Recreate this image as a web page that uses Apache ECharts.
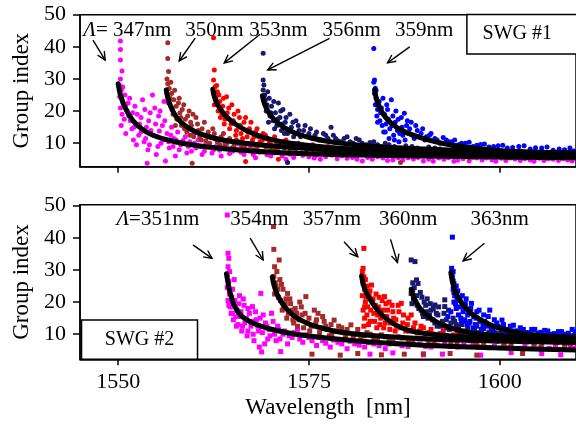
<!DOCTYPE html>
<html><head><meta charset="utf-8">
<script src="https://cdn.jsdelivr.net/npm/echarts@6/dist/echarts.min.js"></script>
<style>html,body{margin:0;padding:0;background:#fff;font-family:'Liberation Serif',serif}#c{width:576px;height:424px}</style>
</head><body><div id="c"></div>
<script>
// ---------- tick labels ----------
const xTicks = [1550, 1575, 1600];
const yTicks = [10, 20, 30, 40, 50];

// ---------- SWG #1 (top panel) : scatter data [wavelength nm, group index] ----------
const swg1_347 = [[1550.3,41.8],[1550.3,39.2],[1550.3,35.9],[1550.5,32.5],[1550.3,30.0],[1550.2,28.0],[1550.4,26.5],[1550.2,24.5],[1550.6,23.0],[1550.3,21.0],[1550.5,19.0],[1550.8,17.5],[1550.4,15.5],[1551.0,22.0],[1551.2,20.0],[1551.0,13.0],[1551.5,24.0],[1551.6,17.0],[1551.8,14.5],[1552.0,11.0],[1552.2,21.5],[1552.5,19.0],[1552.4,9.5],[1552.8,16.0],[1553.0,13.5],[1553.2,23.5],[1553.5,20.5],[1553.6,11.5],[1553.8,3.8],[1553.9,8.0],[1554.0,17.0],[1554.3,14.0],[1554.5,25.0],[1554.8,21.0],[1555.0,6.5],[1555.1,12.0],[1555.3,18.5],[1555.5,20.0],[1555.6,10.0],[1555.8,15.5],[1556.0,23.0],[1556.2,4.5],[1556.4,13.0],[1556.7,8.5],[1557.0,15.0],[1557.3,11.5],[1557.5,6.0],[1557.8,13.5],[1558.2,9.5],[1558.8,12.0],[1559.0,7.0],[1559.4,10.5],[1559.8,12.5],[1560.2,8.5],[1560.5,11.0],[1561.0,6.5],[1561.5,10.0],[1562.0,12.0],[1562.5,8.0],[1563.0,10.5],[1563.5,6.0],[1564.2,9.5],[1565.0,7.5],[1565.8,9.8],[1566.5,6.5],[1567.3,8.5],[1568.0,5.5],[1569.0,7.5],[1570.0,6.0],[1571.0,7.6],[1572.0,5.0],[1573.5,6.8],[1575.0,5.8],[1576.5,5.0],[1578.0,6.3],[1580.0,5.3],[1582.0,4.5],[1584.0,5.8],[1586.0,4.8],[1588.0,5.5],[1590.0,4.5],[1592.0,5.4],[1594.5,4.7],[1597.0,5.4],[1599.5,4.4],[1602.0,5.1],[1604.5,4.4],[1607.0,5.0],[1609.5,4.5],
[1550.6,27.5],[1550.9,25.0],[1551.3,22.5],[1551.4,18.5],[1551.9,19.5],[1552.1,15.0],[1552.7,12.5],[1553.0,18.0],[1553.4,10.5],[1553.7,15.0],[1554.1,9.5],[1554.2,19.5],[1554.6,12.5],[1554.9,16.0],[1555.2,9.0],[1555.4,13.8],[1555.9,11.0],[1556.1,17.0],[1556.6,10.5],[1556.9,12.5],[1557.2,9.0],[1557.6,11.0],[1558.0,8.0],[1558.5,10.8],[1559.2,9.0],[1559.6,7.5],[1560.0,10.0],[1560.8,9.0],[1561.3,7.5],[1561.8,9.2],[1562.3,7.0],[1562.8,9.0],[1563.3,7.8],[1563.8,8.8],[1564.6,6.8],[1565.4,8.2],[1566.1,7.2],[1566.9,7.8],[1567.7,6.5],[1568.5,7.2],[1569.5,6.4],[1570.5,7.0],[1571.5,6.0],[1572.5,6.6],[1573.0,5.6],[1574.2,6.2],[1575.7,5.4],[1576.0,6.3],[1577.2,5.8],[1578.7,5.2],[1579.3,6.0],[1580.7,5.6],[1581.3,5.0],[1582.7,5.6],[1583.3,5.0],[1584.7,5.4],[1585.3,4.6],[1586.7,5.5],[1587.3,4.7],[1588.7,5.1],[1589.3,5.6],[1590.7,5.0],[1591.3,4.4],[1592.7,5.0],[1593.3,5.5],[1594.0,4.4],[1595.2,5.2],[1596.0,4.5],[1596.5,5.6],[1597.7,4.8],[1598.3,5.4],[1599.0,4.8],[1600.2,5.3],[1600.8,4.6],[1601.4,5.4],[1602.7,4.6],[1603.3,5.2],[1604.0,4.8],[1605.2,5.3],[1605.8,4.6],[1606.4,5.2],[1607.7,4.6],[1608.3,5.2],[1608.9,4.8]];
const swg1_350 = [[1556.5,41.3],[1556.5,36.4],[1556.6,32.3],[1556.4,30.0],[1556.5,28.5],[1556.7,27.0],[1556.4,25.5],[1556.8,24.0],[1556.6,22.5],[1557.0,25.5],[1557.1,21.0],[1557.3,23.5],[1557.2,19.0],[1557.6,21.5],[1557.7,17.5],[1558.0,24.0],[1558.1,19.5],[1558.3,15.5],[1558.6,22.0],[1558.8,17.5],[1559.0,13.5],[1559.3,20.0],[1559.6,15.5],[1559.7,3.8],[1559.9,12.0],[1560.2,18.0],[1560.5,14.0],[1560.9,11.0],[1561.3,16.5],[1561.6,12.5],[1562.0,10.0],[1562.4,14.5],[1562.8,11.5],[1563.3,9.5],[1563.8,13.0],[1564.3,10.5],[1564.9,8.5],[1565.5,11.0],[1566.2,9.0],[1567.0,10.0],[1567.8,8.0],[1568.8,9.5],[1570.0,8.0],[1571.2,9.0],[1572.5,7.5],[1574.0,8.5],[1575.5,7.0],[1577.0,8.0],[1578.5,6.5],[1580.5,7.5],[1582.5,6.5],[1584.5,7.0],[1586.5,6.0],[1587.0,4.0],[1588.5,6.8],[1591.0,5.8],[1593.5,6.5],[1596.0,5.5],[1598.5,6.2],[1601.0,5.5],[1603.5,6.0],[1606.0,5.3],[1608.5,5.8],
[1556.9,29.0],[1557.4,26.5],[1557.5,15.5],[1557.9,22.5],[1558.2,18.0],[1558.4,20.5],[1558.7,14.5],[1559.1,18.5],[1559.4,12.5],[1559.5,16.5],[1559.8,19.0],[1560.0,13.5],[1560.4,16.0],[1560.7,12.0],[1561.0,14.5],[1561.5,10.8],[1561.8,13.5],[1562.2,11.8],[1562.6,13.0],[1563.0,10.5],[1563.5,12.0],[1564.0,9.8],[1564.6,11.5],[1565.2,9.5],[1565.8,10.5],[1566.6,8.8],[1567.4,9.5],[1568.2,8.5],[1569.4,8.8],[1570.6,7.8],[1571.8,8.4],[1573.2,7.6],[1574.7,8.0],[1576.2,7.2],[1577.7,7.6],[1579.3,6.8],[1580.0,6.2],[1581.5,7.0],[1583.5,6.6],[1585.5,6.4],[1587.5,6.2],[1589.7,6.5],[1592.2,6.0],[1594.7,6.2],[1597.2,5.8],[1599.7,6.0],[1602.2,5.7],[1604.7,5.9],[1607.2,5.5],[1609.5,5.7]];
const swg1_353 = [[1562.5,42.8],[1562.6,32.8],[1562.5,29.7],[1562.7,27.6],[1562.5,25.5],[1562.8,24.0],[1562.6,22.0],[1563.0,26.0],[1563.1,20.0],[1563.3,23.0],[1563.4,18.0],[1563.7,21.5],[1563.9,16.0],[1564.2,24.5],[1564.3,19.5],[1564.6,14.5],[1564.9,22.0],[1565.1,17.0],[1565.4,12.5],[1565.7,20.0],[1566.0,15.5],[1566.3,11.5],[1566.7,4.3],[1566.7,18.0],[1567.0,13.5],[1567.4,16.5],[1567.8,12.0],[1568.2,14.5],[1568.6,10.5],[1569.0,13.0],[1569.5,11.5],[1570.0,9.5],[1570.5,12.0],[1571.0,5.0],[1571.2,10.0],[1572.0,11.0],[1572.8,9.0],[1573.6,10.0],[1574.5,8.5],[1575.5,9.5],[1576.5,8.0],[1577.5,9.0],[1578.8,7.5],[1580.0,8.5],[1581.5,7.5],[1583.0,8.0],[1584.5,7.0],[1586.0,7.8],[1588.0,6.8],[1590.0,7.5],[1592.0,6.5],[1594.0,7.2],[1596.5,6.5],[1599.0,7.0],[1601.5,6.3],[1604.0,6.8],[1606.5,6.2],[1609.0,6.6],
[1562.9,28.0],[1563.2,25.0],[1563.6,19.0],[1563.8,24.0],[1564.0,17.5],[1564.5,21.0],[1564.8,16.0],[1565.2,19.0],[1565.5,14.0],[1565.9,18.0],[1566.1,13.0],[1566.5,16.5],[1566.9,12.0],[1567.2,14.5],[1567.6,11.0],[1568.0,13.5],[1568.4,12.0],[1568.9,11.0],[1569.3,12.5],[1569.8,10.5],[1570.3,11.0],[1570.8,9.8],[1571.6,10.5],[1572.4,9.5],[1573.2,9.8],[1574.0,9.0],[1575.0,8.8],[1576.0,9.0],[1577.0,8.2],[1578.2,8.6],[1579.4,7.8],[1580.7,8.2],[1582.2,7.6],[1583.7,7.8],[1585.2,7.2],[1587.0,7.4],[1589.0,7.0],[1591.0,7.2],[1593.0,6.8],[1595.2,7.0],[1597.7,6.6],[1600.2,6.8],[1602.7,6.5],[1605.2,6.6],[1607.7,6.4],[1609.7,6.7]];
const swg1_356 = [[1569.0,38.0],[1569.0,29.7],[1569.1,28.1],[1569.0,26.6],[1569.2,25.0],[1569.3,23.5],[1569.5,22.0],[1569.4,20.0],[1569.8,24.0],[1569.9,18.5],[1570.1,21.5],[1570.3,17.0],[1570.6,19.5],[1570.8,15.5],[1571.0,22.5],[1571.2,18.0],[1571.4,14.0],[1571.6,20.5],[1571.9,16.5],[1572.2,4.0],[1572.2,13.0],[1572.5,19.0],[1572.7,15.0],[1573.0,12.0],[1573.3,17.0],[1573.7,14.0],[1574.1,12.5],[1574.5,15.5],[1575.0,13.0],[1575.5,11.5],[1576.0,13.5],[1576.6,11.0],[1577.2,12.5],[1577.9,15.0],[1578.5,11.5],[1579.2,10.5],[1580.0,12.0],[1580.8,10.0],[1581.6,11.0],[1582.5,9.5],[1583.5,10.5],[1584.5,9.0],[1585.5,9.5],[1587.0,8.5],[1588.5,9.0],[1590.0,8.0],[1591.5,8.5],[1593.0,7.5],[1595.0,8.0],[1597.0,7.2],[1599.0,7.6],[1601.5,7.0],[1604.0,7.4],[1606.5,6.8],[1609.0,7.2],
[1569.6,26.0],[1569.7,16.5],[1570.0,19.5],[1570.4,23.0],[1570.5,14.5],[1570.9,17.5],[1571.3,20.0],[1571.5,16.0],[1571.8,13.0],[1572.0,18.0],[1572.4,14.0],[1572.9,16.5],[1573.2,13.0],[1573.6,15.5],[1573.9,12.0],[1574.3,14.0],[1574.8,12.0],[1575.2,14.5],[1575.8,12.5],[1576.3,11.0],[1576.9,13.0],[1577.5,11.5],[1578.2,12.5],[1578.8,10.8],[1579.6,11.5],[1580.4,10.5],[1581.2,11.5],[1582.0,10.0],[1583.0,10.2],[1584.0,9.5],[1585.0,10.0],[1586.2,9.0],[1587.7,9.2],[1589.2,8.5],[1590.7,8.8],[1592.2,8.2],[1594.0,8.4],[1596.0,7.8],[1598.0,8.0],[1600.2,7.4],[1602.7,7.6],[1605.2,7.2],[1607.7,7.4],[1609.5,7.0]];
const swg1_359 = [[1583.5,39.5],[1583.6,29.7],[1583.5,29.0],[1583.7,27.1],[1583.6,25.5],[1583.8,24.0],[1583.7,22.0],[1584.0,20.5],[1583.9,18.5],[1584.2,23.0],[1584.3,17.0],[1584.5,21.0],[1584.6,15.5],[1584.9,19.0],[1585.0,13.5],[1585.2,22.0],[1585.4,17.5],[1585.5,11.5],[1585.8,23.5],[1585.9,15.5],[1586.1,12.5],[1586.4,20.0],[1586.6,14.0],[1586.8,10.5],[1587.1,18.0],[1587.3,12.5],[1587.5,19.3],[1587.8,15.5],[1588.1,13.0],[1588.4,16.5],[1588.8,11.5],[1589.2,14.0],[1589.7,13.0],[1590.2,11.0],[1590.8,12.5],[1591.5,11.5],[1592.2,10.0],[1593.0,11.0],[1593.7,10.5],[1594.6,9.5],[1595.5,10.0],[1596.5,9.0],[1597.5,9.6],[1598.6,8.8],[1599.8,9.2],[1601.0,8.5],[1602.5,9.0],[1604.0,8.2],[1605.5,8.5],[1607.0,7.8],[1608.5,8.0],[1609.7,7.6],
[1583.8,26.5],[1584.0,16.5],[1584.4,19.5],[1584.7,24.0],[1584.8,13.5],[1585.1,16.0],[1585.3,20.5],[1585.6,14.5],[1586.0,18.5],[1586.2,11.0],[1586.3,16.5],[1586.7,17.5],[1586.9,13.0],[1587.2,15.0],[1587.6,11.0],[1587.9,17.0],[1588.2,14.5],[1588.6,12.5],[1589.0,15.5],[1589.4,12.0],[1589.9,14.5],[1590.4,12.0],[1591.0,13.0],[1591.8,11.0],[1592.6,11.8],[1593.3,10.5],[1594.1,11.0],[1595.0,10.0],[1596.0,10.3],[1597.0,9.4],[1598.0,9.8],[1599.2,9.0],[1600.4,9.4],[1601.7,8.7],[1603.2,9.2],[1604.7,8.6],[1606.2,8.8],[1607.8,8.2],[1609.2,8.5]];

// ---------- SWG #1 fitted curves ----------
const fit1_347 = [[1550.0,28.5],[1550.2,26.0],[1550.4,24.3],[1550.7,22.2],[1551.1,20.2],[1551.5,18.5],[1552.0,16.9],[1552.8,15.0],[1553.8,13.4],[1555.0,12.1],[1556.5,11.0],[1558.2,10.1],[1560.5,9.2],[1563.0,8.5],[1567.4,7.6],[1572.0,7.0],[1578.0,6.5],[1585.0,6.2],[1595.0,5.9],[1605.0,5.6],[1610.0,5.5]];
const fit1_350 = [[1556.3,26.6],[1556.5,24.2],[1556.8,22.0],[1557.1,20.3],[1557.6,18.3],[1558.2,16.6],[1559.2,14.8],[1560.4,13.3],[1561.8,12.1],[1563.5,11.1],[1566.9,9.9],[1572.0,8.8],[1580.0,7.7],[1590.0,6.9],[1600.0,6.4],[1610.0,6.0]];
const fit1_353 = [[1562.4,26.8],[1562.6,24.6],[1562.9,22.6],[1563.4,20.6],[1564.0,18.7],[1564.7,17.2],[1565.6,15.6],[1566.6,14.2],[1568.2,12.5],[1570.0,11.2],[1572.6,10.0],[1578.0,8.6],[1585.0,7.7],[1595.0,7.0],[1610.0,6.4]];
const fit1_356 = [[1568.9,24.8],[1569.1,22.8],[1569.4,21.0],[1569.8,19.3],[1570.4,17.5],[1571.2,15.8],[1572.3,14.1],[1573.6,12.8],[1575.2,11.7],[1577.0,10.8],[1580.0,9.8],[1583.5,9.0],[1590.0,8.2],[1600.0,7.4],[1610.0,7.0]];
const fit1_359 = [[1583.6,26.6],[1583.8,24.3],[1584.1,22.1],[1584.5,20.0],[1585.0,18.2],[1585.7,16.4],[1586.6,14.8],[1587.8,13.3],[1589.4,11.9],[1591.5,10.5],[1593.8,9.4],[1596.5,8.5],[1600.3,7.7],[1605.0,7.2],[1610.0,6.9]];

// ---------- SWG #2 (bottom panel) : scatter data ----------
const swg2_351 = [[1564.3,47.1],[1564.4,35.2],[1564.5,33.6],[1564.4,31.0],[1564.3,28.5],[1564.5,26.5],[1564.3,24.5],[1564.6,22.5],[1564.4,20.5],[1564.7,18.5],[1564.8,16.5],[1565.0,24.0],[1565.1,14.5],[1565.3,20.5],[1565.5,12.5],[1565.6,17.5],[1565.9,22.0],[1566.0,15.5],[1566.2,11.0],[1566.5,19.0],[1566.6,13.5],[1566.9,9.5],[1567.2,16.5],[1567.4,12.5],[1567.6,18.6],[1567.8,8.0],[1568.1,14.5],[1568.4,11.0],[1568.7,22.7],[1568.8,4.5],[1569.0,16.0],[1569.2,7.0],[1569.5,12.5],[1569.9,9.5],[1570.3,14.0],[1570.7,8.0],[1571.0,11.5],[1571.3,4.6],[1571.6,10.0],[1572.2,7.0],[1572.8,9.0],[1573.5,11.5],[1574.2,7.5],[1575.0,9.0],[1576.0,6.5],[1576.8,8.0],[1577.8,6.0],[1578.8,7.5],[1580.0,5.5],[1581.0,7.0],[1582.3,6.0],[1583.5,7.0],[1585.0,5.5],[1586.5,7.0],[1588.0,6.2],[1589.5,7.0],[1590.0,3.6],[1591.0,6.0],[1592.8,6.8],[1594.5,6.0],[1596.5,6.8],[1598.5,5.8],[1600.5,6.5],[1602.5,5.6],[1604.5,6.3],[1606.5,5.6],[1608.5,6.2],[1609.8,5.7],[1597.5,3.5],[1605.5,4.0],
[1564.6,29.5],[1564.5,19.0],[1564.9,21.5],[1565.0,16.5],[1565.2,27.0],[1565.4,15.5],[1565.7,13.0],[1565.8,19.5],[1566.1,17.0],[1566.3,12.5],[1566.4,21.0],[1566.8,15.0],[1567.0,11.0],[1567.0,18.0],[1567.5,14.0],[1567.7,10.0],[1568.0,17.0],[1568.3,12.5],[1568.5,6.0],[1568.6,15.0],[1568.9,10.5],[1569.3,13.5],[1569.6,8.5],[1569.8,11.5],[1570.1,16.5],[1570.5,10.0],[1570.9,12.5],[1571.2,8.5],[1571.8,11.0],[1572.4,9.5],[1573.0,10.5],[1573.8,8.5],[1574.6,9.8],[1575.4,8.0],[1576.3,9.0],[1577.2,7.2],[1578.2,8.2],[1579.3,7.0],[1580.4,7.8],[1581.6,6.6],[1582.8,7.4],[1584.2,6.4],[1585.6,7.0],[1587.2,6.4],[1588.7,6.8],[1590.3,6.2],[1591.8,6.6],[1593.5,6.2],[1595.3,6.6],[1597.2,6.0],[1599.3,6.4],[1601.3,5.9],[1603.3,6.3],[1605.3,5.8],[1607.3,6.2],[1609.3,5.9],[1583.0,3.8],[1586.0,4.2],[1592.5,3.8],[1601.5,4.3],[1608.0,3.6]];
const swg2_354 = [[1570.35,43.5],[1570.4,36.4],[1571.1,33.1],[1570.5,31.0],[1570.8,29.5],[1570.4,28.0],[1570.6,26.0],[1570.9,24.0],[1570.5,22.5],[1571.2,27.0],[1571.3,20.5],[1571.6,24.0],[1571.7,18.5],[1572.0,21.0],[1572.2,22.7],[1572.3,16.5],[1572.6,19.5],[1572.9,14.5],[1573.2,18.0],[1573.5,12.5],[1573.8,20.0],[1574.1,16.0],[1574.6,21.7],[1574.8,13.5],[1575.1,11.0],[1575.4,3.8],[1575.7,17.5],[1576.0,14.5],[1576.4,10.5],[1576.8,15.5],[1577.2,12.5],[1577.7,9.5],[1578.3,14.4],[1578.6,11.0],[1579.1,3.5],[1579.3,12.0],[1579.8,9.0],[1580.5,12.9],[1581.0,10.0],[1581.4,4.0],[1581.8,8.5],[1582.6,10.5],[1583.5,8.5],[1584.5,9.8],[1585.5,8.0],[1586.7,9.2],[1587.5,3.8],[1588.0,8.0],[1589.3,8.8],[1590.7,7.6],[1592.0,8.5],[1593.5,4.0],[1593.6,7.5],[1595.2,8.3],[1597.0,7.4],[1598.8,8.0],[1600.6,7.2],[1602.5,7.9],[1604.5,7.0],[1606.5,7.7],[1608.5,6.9],[1609.8,7.4],
[1570.7,25.0],[1571.0,21.5],[1571.4,25.5],[1571.5,17.5],[1571.9,19.5],[1572.1,15.0],[1572.5,21.0],[1572.8,17.5],[1573.0,13.5],[1573.4,16.5],[1573.7,14.5],[1574.0,18.5],[1574.3,12.0],[1574.5,16.5],[1575.0,15.0],[1575.3,12.5],[1575.9,13.5],[1576.2,16.5],[1576.6,12.0],[1577.0,14.0],[1577.5,11.5],[1577.9,13.0],[1578.0,10.0],[1578.9,12.5],[1579.5,10.5],[1580.0,11.5],[1580.8,9.5],[1581.4,11.5],[1582.2,9.5],[1583.0,10.0],[1584.0,9.0],[1585.0,9.2],[1586.0,8.5],[1587.2,8.8],[1588.6,8.2],[1590.0,8.6],[1591.4,7.8],[1592.8,8.2],[1594.4,7.6],[1596.1,8.0],[1597.9,7.2],[1599.7,7.8],[1601.5,7.0],[1603.5,7.6],[1605.5,6.9],[1607.5,7.4],[1609.2,7.0],[1584.5,3.6],[1590.0,3.9],[1597.0,3.5],[1603.0,4.0]];
const swg2_357 = [[1582.2,36.7],[1582.1,30.5],[1582.0,29.5],[1582.2,27.9],[1582.1,26.0],[1582.3,24.0],[1582.0,22.0],[1582.4,20.0],[1582.1,17.5],[1582.3,15.0],[1582.2,12.5],[1582.6,25.0],[1582.7,18.5],[1582.9,22.0],[1583.0,14.0],[1583.2,25.3],[1583.3,20.0],[1583.5,16.5],[1583.8,22.5],[1583.9,12.0],[1584.1,18.5],[1584.4,15.0],[1584.6,20.5],[1584.9,21.7],[1585.0,13.5],[1585.3,17.5],[1585.6,11.5],[1585.9,19.0],[1586.1,15.0],[1586.5,12.5],[1586.8,17.0],[1587.1,19.6],[1587.3,13.5],[1587.7,11.0],[1588.0,15.0],[1588.4,16.0],[1588.7,12.0],[1589.2,10.5],[1589.7,12.5],[1590.3,10.0],[1591.0,11.5],[1591.8,9.5],[1592.6,11.0],[1593.5,9.0],[1594.5,10.5],[1595.5,9.0],[1596.6,10.0],[1597.7,8.8],[1598.8,9.8],[1600.0,8.6],[1601.3,9.6],[1602.6,8.5],[1603.2,10.3],[1604.0,9.2],[1605.4,8.4],[1606.4,9.8],[1606.8,8.8],[1608.2,8.2],[1609.6,8.8],
[1582.4,27.0],[1582.5,21.5],[1582.3,18.5],[1582.6,16.0],[1582.8,13.0],[1583.0,23.5],[1583.1,17.5],[1583.4,21.0],[1583.6,14.0],[1583.7,19.0],[1584.0,16.0],[1584.2,21.5],[1584.3,13.0],[1584.7,17.5],[1584.8,12.0],[1585.1,19.5],[1585.2,15.5],[1585.5,20.0],[1585.7,13.5],[1586.0,17.0],[1586.3,11.0],[1586.4,14.5],[1586.7,19.0],[1587.0,12.0],[1587.4,16.0],[1587.9,13.0],[1588.2,11.0],[1588.9,13.5],[1589.5,11.0],[1590.0,12.0],[1590.7,10.5],[1591.4,10.0],[1592.2,10.2],[1593.0,9.5],[1594.0,9.8],[1595.0,9.2],[1596.1,9.4],[1597.2,8.8],[1598.3,9.2],[1599.4,8.8],[1600.6,9.2],[1601.9,8.6],[1602.0,10.0],[1603.6,8.8],[1604.7,9.0],[1605.9,8.6],[1607.4,8.8],[1608.9,8.4]];
const swg2_360 = [[1588.4,33.1],[1588.9,32.6],[1589.1,26.9],[1589.3,25.8],[1588.6,23.8],[1588.4,22.7],[1588.7,21.0],[1588.5,19.5],[1589.0,20.0],[1589.4,18.0],[1589.8,21.5],[1589.9,16.5],[1590.3,19.0],[1590.5,21.0],[1590.6,15.0],[1591.0,17.5],[1591.3,18.0],[1591.5,19.1],[1591.5,13.5],[1591.9,16.0],[1592.3,12.5],[1592.8,18.6],[1592.8,20.7],[1593.0,14.5],[1593.4,11.5],[1593.9,15.0],[1594.3,13.0],[1594.8,10.8],[1595.3,14.0],[1595.8,12.0],[1596.4,10.5],[1597.0,12.5],[1597.6,11.0],[1598.3,10.0],[1599.0,11.5],[1599.8,10.2],[1600.6,9.8],[1601.5,10.8],[1602.4,9.6],[1603.4,10.4],[1604.4,9.4],[1605.4,10.2],[1606.4,9.2],[1607.5,9.9],[1608.6,9.1],[1609.7,9.6],
[1588.6,26.0],[1588.8,24.5],[1589.1,22.0],[1589.2,19.0],[1589.6,23.0],[1589.7,17.5],[1590.0,15.5],[1590.1,20.0],[1590.4,17.0],[1590.8,16.0],[1590.9,19.5],[1591.2,14.5],[1591.7,16.5],[1591.8,12.5],[1592.0,18.5],[1592.5,14.0],[1592.7,16.5],[1593.1,12.0],[1593.3,17.5],[1593.6,13.5],[1594.1,14.0],[1594.5,11.5],[1594.6,12.5],[1595.0,13.0],[1595.5,11.0],[1596.0,13.5],[1596.7,11.5],[1597.3,10.5],[1597.9,11.8],[1598.6,10.6],[1599.3,10.5],[1600.2,10.5],[1601.0,9.8],[1602.0,10.2],[1602.9,9.6],[1603.9,9.8],[1604.9,9.3],[1605.9,9.6],[1607.0,9.2],[1608.0,9.6],[1609.2,9.0]];
const swg2_363 = [[1593.8,40.2],[1593.7,30.5],[1593.9,29.5],[1593.8,27.9],[1594.0,25.8],[1593.9,24.0],[1594.1,22.0],[1594.0,20.0],[1593.2,15.5],[1593.6,17.0],[1594.3,18.0],[1594.5,23.5],[1594.6,16.0],[1594.8,20.5],[1595.0,14.0],[1595.3,18.5],[1595.6,21.0],[1595.7,13.0],[1596.0,16.5],[1596.3,19.6],[1596.5,12.0],[1596.9,15.0],[1597.3,17.5],[1597.6,11.5],[1598.0,14.0],[1598.4,12.5],[1598.7,17.5],[1599.1,11.0],[1599.6,13.5],[1600.0,12.0],[1600.3,14.4],[1600.8,10.8],[1601.4,12.5],[1602.0,11.0],[1602.7,12.0],[1603.4,10.5],[1604.2,11.5],[1605.0,10.3],[1605.9,11.2],[1606.8,10.0],[1607.7,10.8],[1608.6,10.0],[1609.5,11.5],
[1593.9,26.5],[1594.0,23.0],[1594.2,19.5],[1594.3,25.0],[1594.4,21.0],[1594.7,18.5],[1594.9,15.0],[1595.1,22.0],[1595.2,17.0],[1595.4,14.5],[1595.5,19.5],[1595.8,16.0],[1596.1,14.0],[1596.2,18.0],[1596.6,15.5],[1596.8,13.0],[1597.0,17.0],[1597.4,14.0],[1597.8,12.5],[1597.9,16.0],[1598.2,13.5],[1598.5,15.5],[1598.9,12.0],[1599.3,14.5],[1599.8,12.5],[1600.5,13.0],[1601.0,11.5],[1601.8,12.8],[1602.4,11.0],[1603.1,11.5],[1603.8,10.5],[1604.6,11.5],[1605.4,10.6],[1606.3,11.0],[1607.2,10.2],[1608.1,10.8],[1609.0,10.3],[1609.9,10.8]];

// ---------- SWG #2 fitted curves ----------
const fit2_351 = [[1564.2,28.8],[1564.4,26.0],[1564.6,23.6],[1564.9,21.0],[1565.2,19.0],[1565.7,17.0],[1566.3,15.4],[1567.3,13.9],[1568.7,12.5],[1570.5,11.3],[1573.0,10.1],[1578.3,8.6],[1583.1,7.6],[1590.0,6.6],[1600.0,5.7],[1610.0,5.1]];
const fit2_354 = [[1570.2,27.8],[1570.4,25.5],[1570.7,23.2],[1571.0,21.6],[1571.5,19.6],[1572.1,17.8],[1572.9,16.0],[1574.0,14.3],[1575.3,12.9],[1577.0,11.7],[1579.0,10.7],[1583.2,9.6],[1590.0,8.6],[1600.0,7.9],[1610.0,7.4]];
const fit2_357 = [[1581.9,28.1],[1582.1,25.7],[1582.4,23.6],[1582.8,21.7],[1583.3,19.8],[1583.9,17.8],[1584.6,16.0],[1585.5,14.2],[1586.6,12.6],[1588.0,11.3],[1590.0,10.3],[1594.0,9.4],[1600.0,9.0],[1610.0,8.7]];
const fit2_360 = [[1588.4,24.0],[1588.6,22.4],[1588.9,20.6],[1589.3,18.9],[1589.9,17.1],[1590.6,15.6],[1591.6,14.0],[1592.8,12.7],[1594.4,11.4],[1596.3,10.4],[1598.5,9.8],[1601.5,9.4],[1605.0,9.1],[1610.0,9.0]];
const fit2_363 = [[1593.6,29.2],[1593.8,26.4],[1594.1,23.8],[1594.5,21.7],[1595.0,19.8],[1595.7,17.8],[1596.6,15.9],[1597.7,14.2],[1599.0,12.7],[1600.6,11.5],[1602.5,10.5],[1605.0,9.7],[1607.5,9.3],[1610.0,9.1]];

// ---------- labels ----------
const labels1 = ['347nm','350nm','353nm','356nm','359nm'];
const labels2 = ['351nm','354nm','357nm','360nm','363nm'];
const panelNames = ['SWG #1','SWG #2'];

const colors = ['#ff00ff','#a52a2a','#ff0000','#191970','#0000ff'];
const FONT = 'Liberation Serif';

const topSets = [swg1_347, swg1_350, swg1_353, swg1_356, swg1_359];
const topFits = [fit1_347, fit1_350, fit1_353, fit1_356, fit1_359];
const botSets = [swg2_351, swg2_354, swg2_357, swg2_360, swg2_363];
const botFits = [fit2_351, fit2_354, fit2_357, fit2_360, fit2_363];

const series = [];
function addPanel(sets, fits, idx, symbol) {
  sets.forEach((d, i) => series.push({
    type: 'scatter', xAxisIndex: idx, yAxisIndex: idx, data: d,
    symbol: symbol, symbolSize: 5, itemStyle: { color: colors[i], opacity: 1 },
    silent: true, z: 2
  }));
  fits.forEach((d) => series.push({
    type: 'line', xAxisIndex: idx, yAxisIndex: idx, data: d,
    showSymbol: false, symbol: 'none', smooth: 0.3,
    lineStyle: { color: '#000', width: 5, cap: 'round', join: 'round' }, silent: true, z: 3
  }));
}
addPanel(topSets, topFits, 0, 'circle');
addPanel(botSets, botFits, 1, 'rect');

function xAxis(grid, showLabels) {
  return {
    type: 'value', gridIndex: grid, min: 1545, max: 1610,
    axisLine: { show: true, onZero: false, lineStyle: { color: '#000', width: 1.5 } },
    axisTick: { show: true, inside: false, length: 6, customValues: xTicks, lineStyle: { color: '#000', width: 1.5 } },
    axisLabel: { show: showLabels, customValues: xTicks, formatter: v => String(v), margin: 12, color: '#000', fontSize: 22, fontFamily: FONT },
    splitLine: { show: false },
    name: showLabels ? 'Wavelength  [nm]' : '', nameLocation: 'middle', nameGap: 37,
    nameTextStyle: { color: '#000', fontSize: 23, fontFamily: FONT }
  };
}
function yAxis(grid, min, max) {
  return {
    type: 'value', gridIndex: grid, min: min, max: max,
    axisLine: { show: true, onZero: false, lineStyle: { color: '#000', width: 1.5 } },
    axisTick: { show: true, inside: false, length: 7, customValues: yTicks, lineStyle: { color: '#000', width: 1.5 } },
    axisLabel: { show: true, customValues: yTicks, formatter: v => String(v), margin: 14, color: '#000', fontSize: 22, fontFamily: FONT },
    splitLine: { show: false },
    name: 'Group index', nameLocation: 'middle', nameGap: 47,
    nameTextStyle: { color: '#000', fontSize: 23, fontFamily: FONT }
  };
}

const chart = echarts.init(document.getElementById('c'), null, { renderer: 'canvas' });
chart.setOption({
  animation: false,
  backgroundColor: '#fff',
  textStyle: { fontFamily: FONT },
  grid: [
    { left: 80, top: 14.7, width: 496, height: 152, show: true, borderColor: '#000', borderWidth: 1.5, backgroundColor: 'transparent' },
    { left: 80, top: 204.7, width: 496, height: 154.6, show: true, borderColor: '#000', borderWidth: 1.5, backgroundColor: 'transparent' }
  ],
  xAxis: [xAxis(0, false), xAxis(1, true)],
  yAxis: [yAxis(0, 2.7, 50), yAxis(1, 2.2, 50.3)],
  series: series
});

// ---------- annotations placed in data coordinates ----------
const textPos1 = [[1551.2,45.2],[1562.6,45.2],[1571.0,45.2],[1580.6,45.2],[1590.1,45.2]];
const arrows1 = [[[1546.7,42.1],[1548.3,35.9]],[[1560.1,42.7],[1558.0,35.6]],[[1568.6,43.9],[1563.9,35.0]],[[1577.7,42.6],[1569.6,32.8]],[[1588.2,40.0],[1585.3,35.0]]];
const textPos2 = [[1555.2,45.8],[1568.5,45.8],[1578.0,45.8],[1588.0,45.8],[1600.0,45.8]];
const arrows2 = [[[1559.8,37.8],[1562.3,33.6]],[[1567.3,39.9],[1569.0,33.1]],[[1579.6,38.8],[1581.4,34.1]],[[1585.7,39.5],[1586.6,32.3]],[[1598.0,38.3],[1595.2,32.8]]];
const box1 = [[1595.7,50.1],[1611,37.8]];
const box2 = [[1545.2,14.4],[1560.4,2.2]];

const px = (g, p) => chart.convertToPixel({ gridIndex: g }, p);
const graphics = [];
function addText(g, pos, txt) {
  const p = px(g, pos);
  graphics.push({
    type: 'text', x: p[0], y: p[1], z: 100,
    style: {
      text: txt, fill: '#000', fontSize: 21, fontFamily: FONT, align: 'center', verticalAlign: 'middle',
      rich: { i: { fontStyle: 'italic', fontSize: 21, fontFamily: FONT, fill: '#000' } }
    }
  });
}
function addArrow(g, a) {
  const p1 = px(g, a[0]), p2 = px(g, a[1]);
  const ang = Math.atan2(p2[1] - p1[1], p2[0] - p1[0]);
  const L = 9, w = 0.45;
  const h1 = [p2[0] - L * Math.cos(ang - w), p2[1] - L * Math.sin(ang - w)];
  const h2 = [p2[0] - L * Math.cos(ang + w), p2[1] - L * Math.sin(ang + w)];
  graphics.push({ type: 'line', z: 100, shape: { x1: p1[0], y1: p1[1], x2: p2[0], y2: p2[1] }, style: { stroke: '#000', lineWidth: 1.4 } });
  graphics.push({ type: 'polyline', z: 100, shape: { points: [h1, p2, h2] }, style: { stroke: '#000', fill: null, lineWidth: 1.4 } });
}
function addBox(g, b, txt) {
  const a = px(g, b[0]), c = px(g, b[1]);
  graphics.push({ type: 'rect', z: 100, shape: { x: a[0], y: a[1], width: c[0] - a[0], height: c[1] - a[1] }, style: { fill: '#fff', stroke: '#000', lineWidth: 1.5 } });
  graphics.push({ type: 'text', z: 101, x: (a[0] + c[0]) / 2 - (g === 0 ? 8 : 0), y: (a[1] + c[1]) / 2, style: { text: txt, fill: '#000', fontSize: 20, fontFamily: FONT, align: 'center', verticalAlign: 'middle' } });
}
labels1.forEach((l, i) => addText(0, textPos1[i], i === 0 ? '{i|Λ}= ' + l : l));
labels2.forEach((l, i) => addText(1, textPos2[i], i === 0 ? '{i|Λ}=' + l : l));
arrows1.forEach(a => addArrow(0, a));
arrows2.forEach(a => addArrow(1, a));
addBox(0, box1, panelNames[0]);
addBox(1, box2, panelNames[1]);
chart.setOption({ graphic: graphics });
</script>
</body></html>
